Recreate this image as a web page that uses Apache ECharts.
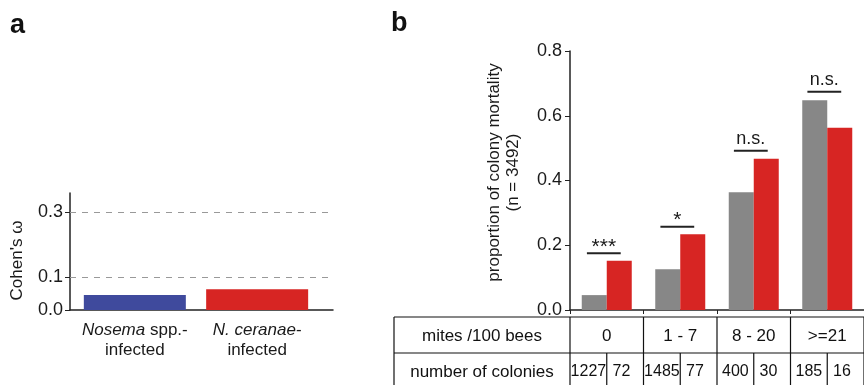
<!DOCTYPE html>
<html>
<head>
<meta charset="utf-8">
<script src="https://cdn.jsdelivr.net/npm/echarts@6/dist/echarts.min.js"></script>
<style>
html, body { margin: 0; padding: 0; background: #fff; }
#chart { width: 864px; height: 385px; }
</style>
</head>
<body>
<div id="chart"></div>
<script>
// panel a - effect size
const effectLabels = ['{i|Nosema} spp.-\ninfected', '{i|N. ceranae}-\ninfected'];
const effectValues = [0.046, 0.064];
const effectColors = ['#3f4a9d', '#d72523'];
const effectRefLines = [0.1, 0.3];
const effectTicks = [0, 0.1, 0.3];

// panel b - mortality by mite load
const miteClasses = ['0', '1 - 7', '8 - 20', '>=21'];
const mortalityGray = [0.046, 0.126, 0.364, 0.648];
const mortalityRed = [0.152, 0.234, 0.467, 0.563];
const sigLabels = ['***', '*', 'n.s.', 'n.s.'];
const sigLevels = [0.175, 0.257, 0.492, 0.674];
const coloniesGray = [1227, 1485, 400, 185];
const coloniesRed = [72, 77, 30, 16];

const FONT = 'Liberation Sans, Arial, sans-serif';
const chart = echarts.init(document.getElementById('chart'));

const option = {
    animation: false,
    textStyle: { fontFamily: FONT },
    grid: [
        { left: 70, top: 193, width: 263, height: 117 },
        { left: 570, top: 51, width: 300, height: 259 }
    ],
    xAxis: [
        {
            gridIndex: 0,
            type: 'value',
            min: 0.47,
            max: 2.62,
            splitLine: { show: false },
            axisTick: { show: false },
            axisLine: { show: true, lineStyle: { color: '#222', width: 1.5 } },
            axisLabel: {
                customValues: [1, 2],
                formatter: (v) => effectLabels[Math.round(v) - 1],
                color: '#1a1a1a',
                fontSize: 17,
                lineHeight: 20,
                margin: 10,
                rich: { i: { fontStyle: 'italic', fontSize: 17, color: '#1a1a1a' } }
            }
        },
        {
            gridIndex: 1,
            type: 'category',
            data: miteClasses,
            axisLine: { lineStyle: { color: '#222', width: 1.5 } },
            axisTick: { show: true, length: 4, lineStyle: { color: '#222' } },
            axisLabel: { show: false }
        }
    ],
    yAxis: [
        {
            gridIndex: 0,
            type: 'value',
            min: 0,
            max: 0.36,
            name: "Cohen's ω",
            nameLocation: 'middle',
            nameGap: 44,
            nameTextStyle: { fontSize: 17, color: '#1a1a1a', padding: [0, 18, 0, 0] },
            splitLine: { show: false },
            axisLine: { show: true, lineStyle: { color: '#222', width: 1.5 } },
            axisTick: { show: true, length: 5, customValues: effectTicks, lineStyle: { color: '#222' } },
            axisLabel: {
                customValues: effectTicks,
                formatter: (v) => v.toFixed(1),
                fontSize: 18,
                color: '#1a1a1a',
                margin: 7
            }
        },
        {
            gridIndex: 1,
            type: 'value',
            min: 0,
            max: 0.8,
            interval: 0.2,
            name: 'proportion of colony mortality\n(n = 3492)',
            nameLocation: 'middle',
            nameGap: 47,
            nameTextStyle: { fontSize: 17, color: '#1a1a1a', lineHeight: 19, padding: [0, 0, 0, 16] },
            splitLine: { show: false },
            axisLine: { show: true, lineStyle: { color: '#222', width: 1.5 } },
            axisTick: { show: true, length: 5, lineStyle: { color: '#222' } },
            axisLabel: {
                formatter: (v) => v.toFixed(1),
                fontSize: 18,
                color: '#1a1a1a',
                margin: 8
            }
        }
    ],
    series: [
        {
            type: 'bar',
            xAxisIndex: 0,
            yAxisIndex: 0,
            barWidth: 102,
            data: effectValues.map((v, i) => ({
                value: [i + 1, v],
                itemStyle: { color: effectColors[i] }
            })),
            markLine: {
                silent: true,
                symbol: 'none',
                label: { show: false },
                lineStyle: { color: '#999', type: [6, 6], width: 1 },
                data: effectRefLines.map(v => ({ yAxis: v }))
            }
        },
        {
            type: 'bar',
            xAxisIndex: 1,
            yAxisIndex: 1,
            barWidth: 25,
            barGap: '0%',
            itemStyle: { color: '#878787' },
            data: mortalityGray
        },
        {
            type: 'bar',
            xAxisIndex: 1,
            yAxisIndex: 1,
            barWidth: 25,
            barGap: '0%',
            itemStyle: { color: '#d72523' },
            data: mortalityRed
        },
        {
            type: 'custom',
            xAxisIndex: 1,
            yAxisIndex: 1,
            clip: false,
            data: sigLevels.map((v, i) => [i, v]),
            renderItem: (params, api) => {
                const p = api.coord([api.value(0), api.value(1)]);
                const band = api.size([1, 0])[0];
                const cx = p[0] - band * 0.04;
                const half = band * 0.23;
                const label = sigLabels[params.dataIndex];
                const isStar = label.indexOf('*') === 0;
                return {
                    type: 'group',
                    children: [
                        {
                            type: 'line',
                            shape: { x1: cx - half, y1: p[1], x2: cx + half, y2: p[1] },
                            style: { stroke: '#222', lineWidth: 2 }
                        },
                        {
                            type: 'text',
                            style: {
                                text: label,
                                x: cx,
                                y: p[1] + (isStar ? 4 : -3),
                                align: 'center',
                                verticalAlign: 'bottom',
                                fontSize: isStar ? 21 : 18,
                                fontFamily: FONT,
                                fill: '#1a1a1a'
                            }
                        }
                    ]
                };
            }
        }
    ]
};

chart.setOption(option);

// table under panel b, aligned to the category bands
const band = chart.convertToPixel({ xAxisIndex: 1 }, 1) - chart.convertToPixel({ xAxisIndex: 1 }, 0);
const centers = miteClasses.map((c, i) => chart.convertToPixel({ xAxisIndex: 1 }, i));
const axisY = chart.convertToPixel({ yAxisIndex: 1 }, 0);
const tLeft = 394;
const tTop = axisY + 7;
const rowH = 36;
const tRight = centers[centers.length - 1] + band / 2;
const lineStyle = { stroke: '#111', lineWidth: 1.2 };
const txt = (text, x, y, size) => ({
    type: 'text',
    style: { text, x, y, align: 'center', verticalAlign: 'middle', fontSize: size, fontFamily: FONT, fill: '#111' }
});
const hline = (y) => ({ type: 'line', shape: { x1: tLeft, y1: y, x2: tRight, y2: y }, style: lineStyle });
const vline = (x, y1, y2) => ({ type: 'line', shape: { x1: x, y1, x2: x, y2 }, style: lineStyle });

const tableEls = [
    hline(tTop),
    hline(tTop + rowH),
    hline(tTop + 2 * rowH),
    vline(tLeft, tTop, tTop + 2 * rowH),
    txt('mites /100 bees', (tLeft + centers[0] - band / 2) / 2, tTop + rowH / 2 + 1, 17),
    txt('number of colonies', (tLeft + centers[0] - band / 2) / 2, tTop + rowH * 1.5 + 1, 17)
];
centers.forEach((c, i) => {
    tableEls.push(vline(c - band / 2, tTop, tTop + 2 * rowH));
    tableEls.push(vline(c, tTop + rowH, tTop + 2 * rowH));
    tableEls.push(txt(miteClasses[i], c, tTop + rowH / 2 + 1, 17));
    tableEls.push(txt(String(coloniesGray[i]), c - band * 0.25, tTop + rowH * 1.5 + 1, 16));
    tableEls.push(txt(String(coloniesRed[i]), c + band * 0.2, tTop + rowH * 1.5 + 1, 16));
});
tableEls.push(vline(tRight, tTop, tTop + 2 * rowH));

chart.setOption({
    graphic: [
        { type: 'text', left: 10, top: 12, style: { text: 'a', fontSize: 27, fontWeight: 'bold', fontFamily: FONT, fill: '#111' } },
        { type: 'text', left: 391, top: 10, style: { text: 'b', fontSize: 27, fontWeight: 'bold', fontFamily: FONT, fill: '#111' } },
        { type: 'group', children: tableEls }
    ]
});
</script>
</body>
</html>
